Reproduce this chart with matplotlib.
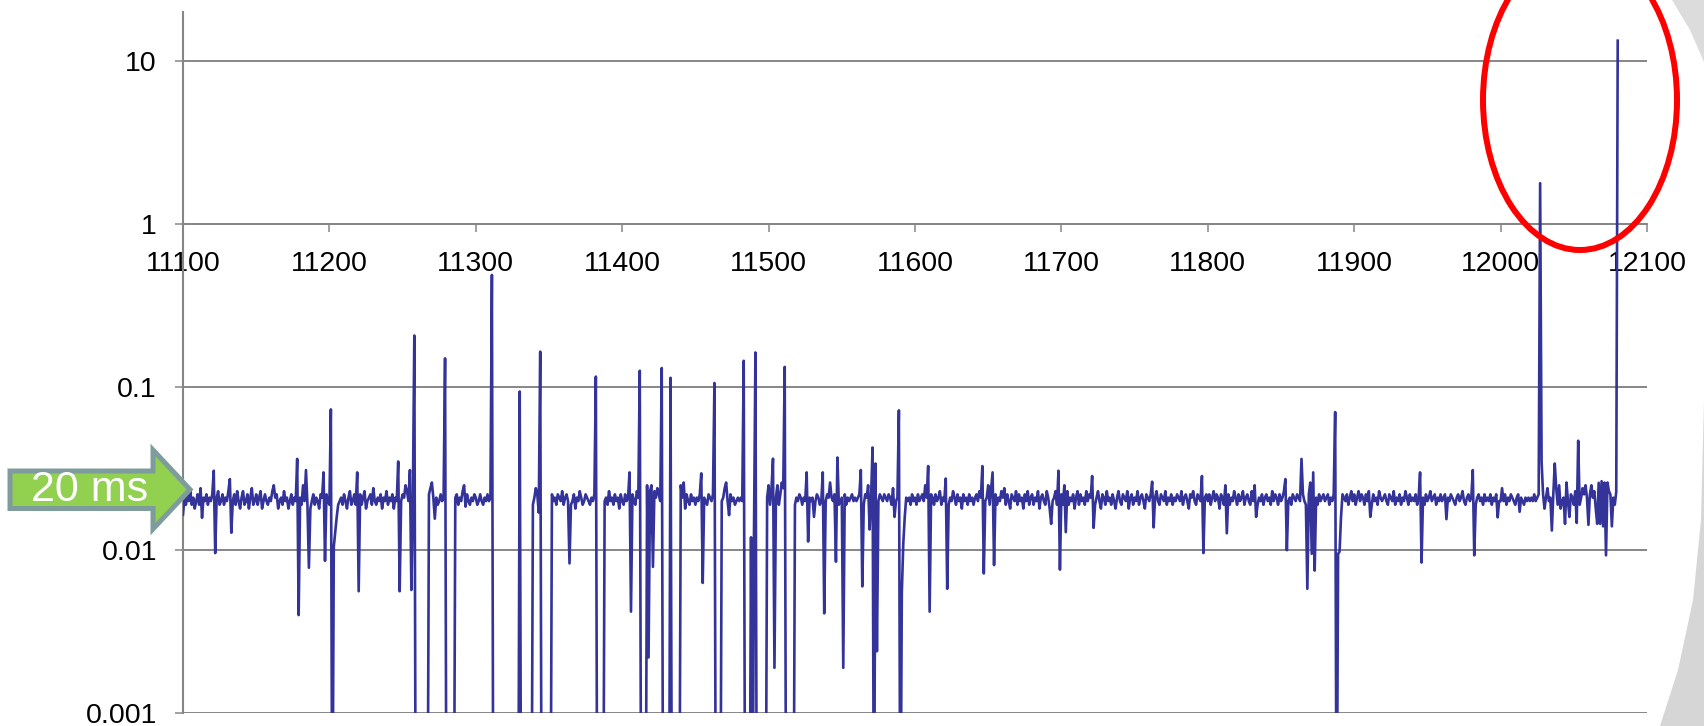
import numpy as np
import matplotlib
matplotlib.use("Agg")
import matplotlib.pyplot as plt
from matplotlib import patches, transforms as mtransforms
from matplotlib.ticker import NullLocator

plt.rcParams['font.family'] = ['Liberation Sans', 'DejaVu Sans']

# ---------------------------------------------------------------------------
# Data: frame interval (seconds) for frames 11100 .. 12080
# ---------------------------------------------------------------------------
X_FIRST = 11100

# regular frame intervals in milliseconds, 20 frames per row
base_ms = [
    17,21,19,22,20,23,19,21,18,20,22,19,24,18,21,20,22,19,21,20,   # 11100
    22,20,18,21,23,19,20,22,19,21,20,23,18,21,20,22,19,23,20,18,   # 11120
    21,23,19,20,22,18,21,24,19,20,22,19,21,23,18,20,22,20,19,21,   # 11140
    20,23,19,21,22,18,20,21,19,23,20,21,18,20,22,19,21,20,23,19,   # 11160
    21,19,22,20,21,19,23,18,20,22,19,21,20,18,22,21,19,20,22,20,   # 11180
    19,21,20,22,19,21,23,20,21,19,22,20,18,21,23,19,20,22,19,21,   # 11200
    20,22,19,21,23,18,20,21,22,19,24,20,19,21,20,22,18,21,20,23,   # 11220
    19,21,20,22,18,21,20,23,19,20,22,21,19,23,20,18,21,20,22,19,   # 11240
    20,21,19,20,22,20,21,22,20,21,23,19,20,21,19,20,22,20,21,19,   # 11260
    20,21,20,19,21,20,21,22,19,21,20,23,19,21,22,20,19,21,20,22,   # 11280
    21,19,20,22,20,19,21,20,22,20,21,19,20,21,20,22,19,20,21,20,   # 11300
    20,21,19,20,22,20,21,19,20,21,20,22,19,21,20,22,19,21,20,19,   # 11320
    21,23,20,19,21,20,22,20,19,21,23,18,22,20,21,19,22,21,20,23,   # 11340
    19,21,22,20,21,19,20,22,18,21,20,23,21,19,20,22,21,20,19,21,   # 11360
    20,22,21,20,19,21,20,22,20,21,19,23,20,21,19,22,20,21,18,22,   # 11380
    20,19,22,20,21,20,21,22,20,19,23,21,20,22,19,20,21,22,20,21,   # 11400
    23,20,22,21,24,22,20,21,19,20,22,20,21,19,20,22,21,19,20,21,   # 11420
    24,21,26,18,22,20,19,22,20,21,19,21,20,22,21,20,21,20,19,22,   # 11440
    21,20,22,21,19,20,22,21,20,21,24,26,20,21,22,20,21,19,20,21,   # 11460
    20,21,20,22,21,20,19,21,20,22,21,20,19,21,20,22,21,20,19,21,   # 11480
    22,20,21,19,21,22,20,19,21,20,22,21,20,19,21,22,20,21,19,21,   # 11500
    20,22,21,19,21,20,22,20,21,20,21,16,20,22,21,19,20,21,26,20,   # 11520
    22,21,26,21,20,22,20,21,19,20,21,20,22,19,21,20,21,22,20,21,   # 11540
    20,21,22,20,21,19,22,21,25,20,22,21,20,19,21,20,22,21,20,22,   # 11560
    21,20,22,21,19,24,16,20,21,20,19,21,20,22,21,20,21,19,22,20,   # 11580
    21,19,22,20,21,22,20,25,21,20,19,22,21,19,22,20,21,23,19,21,   # 11600
    20,22,21,19,21,20,23,21,19,22,20,21,18,22,20,21,19,22,20,21,   # 11620
    19,21,22,20,23,21,19,22,20,21,22,19,24,21,20,22,19,21,20,23,   # 11640
    21,24,19,22,20,18,22,21,20,23,19,22,20,21,18,22,20,23,19,21,   # 11660
    22,19,21,20,23,18,21,22,20,19,23,21,18,22,20,21,23,19,21,20,   # 11680
    22,19,20,21,23,19,21,20,22,18,21,23,19,22,20,21,19,23,20,22,   # 11700
    21,22,20,19,21,23,20,18,22,21,19,23,20,21,19,22,20,18,21,23,   # 11720
    20,19,22,21,20,23,18,21,22,19,21,20,23,19,21,22,20,18,22,21,   # 11740
    20,22,21,19,21,23,20,19,22,21,20,23,19,21,20,22,19,21,20,22,   # 11760
    21,20,23,19,21,22,20,18,22,21,23,20,19,22,21,20,23,19,21,22,   # 11780
    20,22,19,21,23,20,22,21,18,22,21,19,23,20,22,19,21,20,23,21,   # 11800
    19,22,20,21,23,19,21,22,20,19,23,20,21,22,19,21,20,22,19,21,   # 11820
    22,20,21,19,23,20,22,21,19,22,20,21,23,19,22,20,21,19,22,21,   # 11840
    20,22,21,20,21,22,20,19,21,22,20,21,20,22,21,19,22,20,21,22,   # 11860
    20,21,22,19,21,20,22,19,21,20,19,20,22,21,20,22,19,21,23,20,   # 11880
    22,19,21,23,20,22,21,19,22,20,23,21,19,22,20,21,19,23,21,20,   # 11900
    21,22,20,19,22,21,20,23,19,21,20,22,19,21,20,23,21,19,22,20,   # 11920
    21,20,22,19,21,22,20,21,19,22,20,21,23,20,21,22,19,21,20,22,   # 11940
    20,21,22,19,21,20,22,21,20,19,21,22,20,21,23,20,19,21,22,20,   # 11960
    21,20,22,19,21,22,20,21,19,22,20,21,20,22,19,21,20,22,21,20,   # 11980
    20,21,20,22,19,21,20,22,21,20,19,21,22,20,21,20,19,21,20,21,   # 12000
    20,21,20,22,20,21,22,20,21,22,18,21,24,20,21,20,22,20,24,19,   # 12020
    25,18,20,21,20,26,20,16,22,21,19,23,20,22,19,21,24,22,25,21,   # 12040
    20,22,25,21,23,18,15,26,15,27,14,26,19,26,23,22,14,21,19,22,   # 12060
    22,                                                            # 12080
]

# individual frames that stand out from the regular interval (seconds)
event_x = [
    11100, 11113, 11121, 11122, 11132, 11133, 11162, 11178, 11179, 11182,
    11184, 11186, 11196, 11197, 11201, 11203, 11204, 11205, 11206, 11219,
    11220, 11247, 11248, 11252, 11255, 11256, 11258, 11268, 11269, 11270,
    11271, 11272, 11279, 11292, 11293, 11311, 11330, 11339, 11340, 11341,
    11342, 11343, 11344, 11364, 11382, 11405, 11406, 11412, 11417, 11418,
    11419, 11420, 11421, 11422, 11427, 11433, 11440, 11454, 11455, 11463,
    11473, 11483, 11488, 11490, 11491, 11499, 11500, 11501, 11502, 11503,
    11504, 11505, 11506, 11507, 11508, 11509, 11510, 11511, 11526, 11527,
    11537, 11538, 11546, 11547, 11551, 11563, 11564, 11569, 11570, 11571,
    11573, 11574, 11586, 11589, 11591, 11592, 11593, 11609, 11610, 11621,
    11622, 11646, 11647, 11650, 11653, 11654, 11693, 11698, 11699, 11702,
    11703, 11721, 11722, 11762, 11763, 11796, 11797, 11812, 11813, 11832,
    11833, 11853, 11854, 11864, 11868, 11870, 11871, 11872, 11873, 11887,
    11889, 11890, 11891, 11911, 11945, 11946, 11963, 11981, 11982, 11998,
    12001, 12013, 12027, 12028, 12035, 12037, 12044, 12052, 12053, 12060,
    12066, 12067, 12068, 12069, 12070, 12071, 12072, 12073, 12076, 12079,
    12080,
]
event_s = [
    0.0165, 0.0158, 0.0307, 0.0096, 0.0273, 0.0128, 0.0250, 0.0363, 0.0040, 0.0250,
    0.0310, 0.0078, 0.0300, 0.0086, 0.0730, 0.0105, 0.0130, 0.0160, 0.0190, 0.0300,
    0.0056, 0.0350, 0.0056, 0.0250, 0.0310, 0.0057, 0.2070, 0.0220, 0.0240, 0.0260,
    0.0210, 0.0156, 0.1500, 0.0250, 0.0185, 0.4870, 0.0940, 0.0190, 0.0210, 0.0240,
    0.0220, 0.0170, 0.1650, 0.0083, 0.1160, 0.0300, 0.0042, 0.1260, 0.0250, 0.0022,
    0.0230, 0.0250, 0.0079, 0.0230, 0.1310, 0.1140, 0.0250, 0.0296, 0.0063, 0.1060,
    0.0164, 0.1450, 0.0120, 0.0120, 0.1630, 0.0210, 0.0250, 0.0190, 0.0240, 0.0364,
    0.0019, 0.0210, 0.0250, 0.0190, 0.0220, 0.0260, 0.0240, 0.1330, 0.0300, 0.0113,
    0.0300, 0.0041, 0.0085, 0.0370, 0.0019, 0.0310, 0.0060, 0.0134, 0.0210, 0.0426,
    0.0340, 0.0024, 0.0160, 0.0720, 0.0055, 0.0110, 0.0160, 0.0328, 0.0042, 0.0275,
    0.0058, 0.0328, 0.0072, 0.0250, 0.0300, 0.0081, 0.0145, 0.0307, 0.0076, 0.0250,
    0.0129, 0.0285, 0.0137, 0.0263, 0.0138, 0.0285, 0.0096, 0.0250, 0.0127, 0.0250,
    0.0160, 0.0273, 0.0100, 0.0363, 0.0058, 0.0260, 0.0095, 0.0300, 0.0075, 0.0703,
    0.0095, 0.0098, 0.0160, 0.0160, 0.0300, 0.0084, 0.0155, 0.0310, 0.0093, 0.0159,
    0.0240, 0.0172, 1.7800, 0.0350, 0.0132, 0.0340, 0.0145, 0.0147, 0.0469, 0.0143,
    0.0145, 0.0259, 0.0145, 0.0265, 0.0140, 0.0260, 0.0093, 0.0260, 0.0140, 0.0228,
    13.300,
]

# runs of frames whose interval is below the 1 ms floor of the axis
floor_runs = [
    (11202, 11202), (11259, 11267), (11280, 11285), (11312, 11329),
    (11331, 11338), (11345, 11351), (11383, 11387), (11413, 11416),
    (11428, 11432), (11434, 11439), (11464, 11467), (11484, 11487),
    (11489, 11489), (11492, 11498), (11512, 11517), (11572, 11572),
    (11590, 11590), (11888, 11888),
]
floor_s = 0.0001

y_ticks = [0.001, 0.01, 0.1, 1, 10]
y_labels = ["0.001", "0.01", "0.1", "1", "10"]
x_ticks = list(range(11100, 12101, 100))

# ---------------------------------------------------------------------------
frames = X_FIRST + np.arange(len(base_ms))
interval = np.array(base_ms, dtype=float) / 1000.0
for a, b in floor_runs:
    interval[(frames >= a) & (frames <= b)] = floor_s
for fx, fv in zip(event_x, event_s):
    interval[fx - X_FIRST] = fv

W, H = 1704, 726
fig = plt.figure(figsize=(W / 100, H / 100), dpi=100, facecolor='white')
ax = fig.add_axes([183 / W, 1 - 713.3 / H, (1647 - 183) / W, (713.3 - 11.8) / H])

GRID = '#868686'
ax.plot(frames, interval, color='#333399', lw=1.9, zorder=3)

ax.set_yscale('log')
ax.set_ylim(0.001, 20)
ax.set_xlim(11100, 12100)
ax.set_yticks(y_ticks, labels=y_labels)
ax.set_xticks(x_ticks, labels=[str(v) for v in x_ticks])
ax.yaxis.set_minor_locator(NullLocator())
ax.xaxis.set_minor_locator(NullLocator())

ax.yaxis.grid(True, color=GRID, lw=1.4)
ax.set_axisbelow(True)
for side in ('top', 'right'):
    ax.spines[side].set_visible(False)
ax.spines['left'].set_color(GRID)
ax.spines['left'].set_linewidth(1.5)
ax.spines['bottom'].set_position(('data', 1))
ax.spines['bottom'].set_color(GRID)
ax.spines['bottom'].set_linewidth(1.4)
ax.tick_params(axis='both', direction='out', length=5.8, width=1.1,
               color=GRID, labelsize=20.5, labelcolor='black', pad=13)
ax.tick_params(axis='x', pad=14)

# figure-pixel coordinates (origin top-left) for the annotations
px = mtransforms.Affine2D().scale(1 / W, -1 / H).translate(0, 1) + fig.transFigure

arrow = patches.Polygon(
    [(10, 471), (153, 471), (153, 450), (190, 489.5), (153, 529),
     (153, 508.5), (10, 508.5)],
    closed=True, facecolor='#92D050', edgecolor='#7F9C9C', lw=3.6,
    joinstyle='miter', transform=px, zorder=5)
fig.add_artist(arrow)
fig.text(90, 490, "20 ms", transform=px, color='white', fontsize=31,
         ha='center', va='center', zorder=6)

ring = patches.Ellipse((1580, 100), 194, 300, fill=False, edgecolor='#FF0000',
                       lw=4.3, transform=px, zorder=5)
fig.add_artist(ring)

# light grey page swoosh along the right edge
swoosh_top = patches.Polygon([(1672, 0), (1704, 0), (1704, 62), (1690, 30)],
                             closed=True, facecolor='#DCDCDC', edgecolor='none',
                             transform=px, zorder=1)
swoosh_low = patches.Polygon([(1704, 400), (1701, 520), (1693, 600), (1678, 670),
                              (1660, 726), (1704, 726)],
                             closed=True, facecolor='#D6D6D6', edgecolor='none',
                             transform=px, zorder=1)
fig.add_artist(swoosh_top)
fig.add_artist(swoosh_low)

fig.savefig('out.png', dpi=100, facecolor='white')
